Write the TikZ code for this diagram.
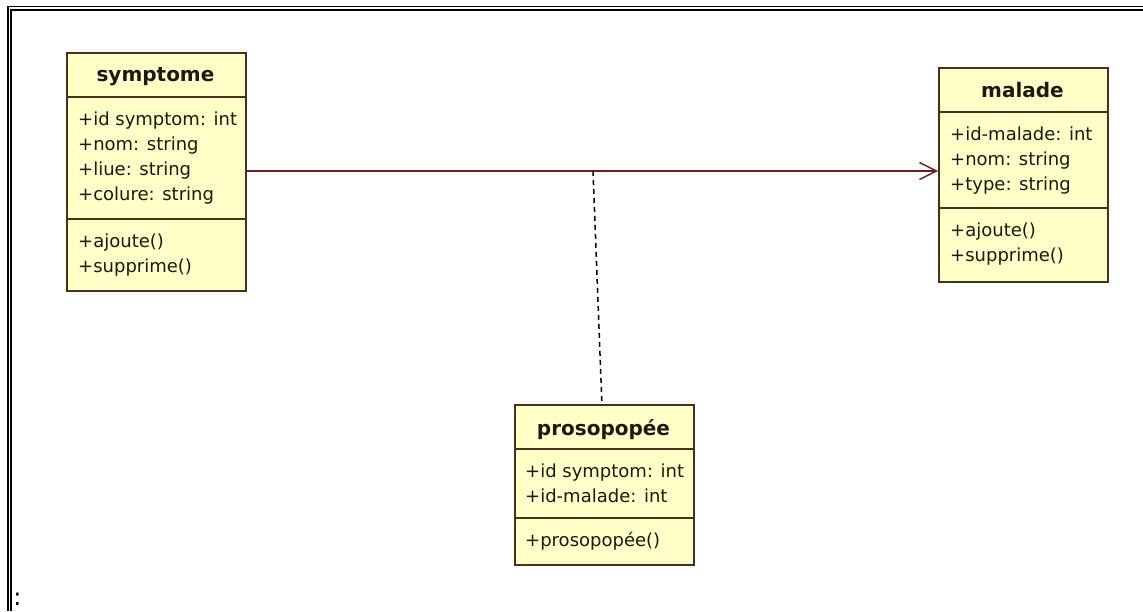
\documentclass[tikz,border=0pt]{standalone}
\usepackage{fontspec}
\setmainfont{DejaVu Sans}
\usetikzlibrary{arrows.meta}

\definecolor{classfill}{RGB}{255,255,200}
\definecolor{classline}{RGB}{74,48,26}
\definecolor{classtext}{RGB}{30,24,18}
\definecolor{assoc}{RGB}{112,28,28}

\tikzset{
  classbox/.style={draw=classline, line width=1.8pt, fill=classfill,
                   inner sep=0pt, anchor=north west},
  divider/.style={draw=classline, line width=1.6pt},
  member/.style={anchor=base west, inner sep=0pt, text=classtext,
                 font=\fontsize{18}{18}\selectfont},
  classname/.style={anchor=base, inner sep=0pt, text=classtext,
                    font=\fontsize{20}{20}\selectfont\bfseries},
  frameline/.style={draw=black, line width=1.6pt},
  assocline/.style={draw=assoc, line width=1.5pt},
  dependline/.style={draw=black, line width=1.5pt, dash pattern=on 5pt off 4pt},
}

\begin{document}
\begin{tikzpicture}[x=1pt, y=-1pt]
  \useasboundingbox (0,0) rectangle (1143,611);

  % double frame along the top and left edges
  \draw[frameline] (1143,6.5) -- (8,6.5) -- (8,611);
  \draw[frameline] (1143,9.7) -- (11.2,9.7) -- (11.2,611);
  \node[anchor=base west, inner sep=0pt, font=\fontsize{24}{24}\selectfont] (colon) at (13.2,605) {:};

  % class: symptome
  \node[classbox, minimum width=179pt, minimum height=238pt] (sym) at (66,52) {};
  \draw[divider] ([yshift=-45pt]sym.north west) -- ([yshift=-45pt]sym.north east);
  \draw[divider] ([yshift=-167pt]sym.north west) -- ([yshift=-167pt]sym.north east);
  \node[classname] (sym-name) at (155.5,81) {symptome};
  \node[member] (sym-a1) at (78,125) {+id symptom: int};
  \node[member] (sym-a2) at (78,150) {+nom: string};
  \node[member] (sym-a3) at (78,175) {+liue: string};
  \node[member] (sym-a4) at (78,200) {+colure: string};
  \node[member] (sym-m1) at (78,247) {+ajoute()};
  \node[member] (sym-m2) at (78,272) {+supprime()};

  % class: malade
  \node[classbox, minimum width=169pt, minimum height=214pt] (mal) at (938,67) {};
  \draw[divider] ([yshift=-45pt]mal.north west) -- ([yshift=-45pt]mal.north east);
  \draw[divider] ([yshift=-141pt]mal.north west) -- ([yshift=-141pt]mal.north east);
  \node[classname] (mal-name) at (1022.5,97) {malade};
  \node[member] (mal-a1) at (950,140) {+id-malade: int};
  \node[member] (mal-a2) at (950,165) {+nom: string};
  \node[member] (mal-a3) at (950,190) {+type: string};
  \node[member] (mal-m1) at (950,236) {+ajoute()};
  \node[member] (mal-m2) at (950,261) {+supprime()};

  % class: prosopopée
  \node[classbox, minimum width=179pt, minimum height=160pt] (pro) at (514,404) {};
  \draw[divider] ([yshift=-45pt]pro.north west) -- ([yshift=-45pt]pro.north east);
  \draw[divider] ([yshift=-114pt]pro.north west) -- ([yshift=-114pt]pro.north east);
  \node[classname] (pro-name) at (603.5,435) {prosopopée};
  \node[member] (pro-a1) at (525,477) {+id symptom: int};
  \node[member] (pro-a2) at (525,502) {+id-malade: int};
  \node[member] (pro-m1) at (525,546) {+prosopopée()};

  % association symptome -> malade with its association class
  \coordinate (joint) at (593,171);
  \draw[assocline, -{Straight Barb[length=17pt, width=17pt, line width=1.4pt]}]
    (sym.east |- joint) -- (mal.west |- joint);
  \draw[dependline] (joint) -- ([xshift=-2.5pt]pro.north);
\end{tikzpicture}
\end{document}
